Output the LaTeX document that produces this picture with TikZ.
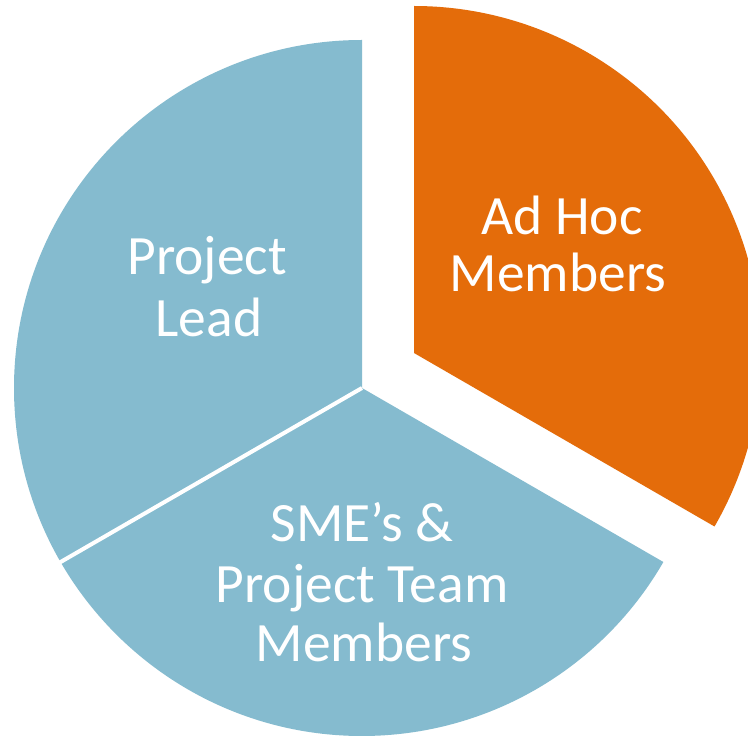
\documentclass[tikz,border=0pt]{standalone}
\usepackage{fontspec}
\setmainfont{Carlito}
\definecolor{pieblue}{RGB}{133,187,207}
\definecolor{pieorange}{RGB}{228,108,10}
\begin{document}
\begin{tikzpicture}[x=1pt,y=1pt,
  lbl/.style={text=white,font=\fontsize{55.5}{62}\selectfont,inner sep=0pt,anchor=base}]
\useasboundingbox (0,0) rectangle (748,737);
\fill[white] (0,0) rectangle (748,737);
\begin{scope}
\clip (0,0) rectangle (748,737);
\coordinate (c) at (362,349);
\coordinate (o) at (414,384);
% blue slices (Project Lead + SME's)
\fill[pieblue] (c) -- ++(90:348) arc[start angle=90,end angle=330,radius=348] -- cycle;
\draw[white,line width=4pt] (c) -- ++(210:354);
% exploded orange slice
\fill[pieorange] (o) -- ++(-30:347) arc[start angle=-30,end angle=90,radius=347] -- cycle;
\end{scope}
% labels
\node[lbl] (pl1) at (207,462) {Project};
\node[lbl] (pl2) at (209,400) {Lead};
\node[lbl] (ah1) at (562,502) {Ad Hoc};
\node[lbl] (ah2) at (558,445) {Members};
\node[lbl] (sm1) at (362,195) {SME’s \&};
\node[lbl] (sm2) at (362,134) {Project Team};
\node[lbl] (sm3) at (364,75) {Members};
\end{tikzpicture}
\end{document}
